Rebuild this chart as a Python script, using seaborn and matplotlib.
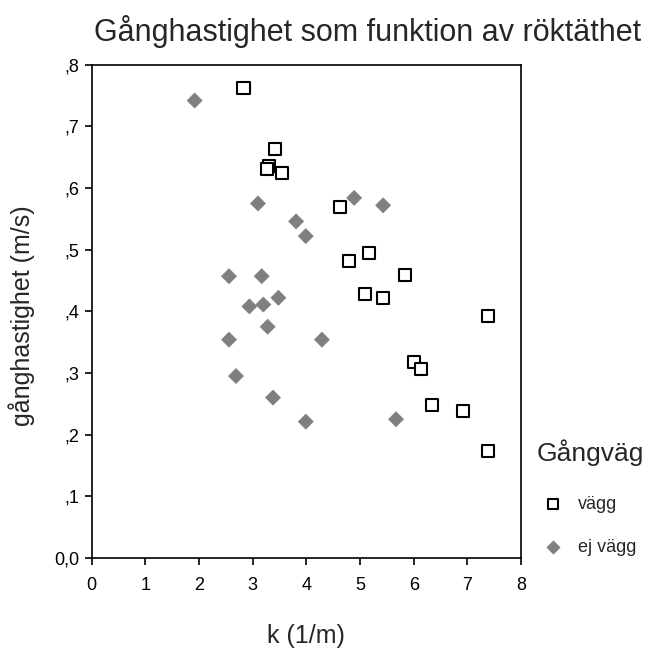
import numpy as np
import pandas as pd
import matplotlib
matplotlib.use("Agg")
import matplotlib.pyplot as plt
import seaborn as sns

# k (1/m) and speed (m/s)
vagg_k = [2.83, 3.41, 3.30, 3.27, 3.54, 4.62, 5.16, 4.79, 5.84, 5.10, 5.43,
          7.39, 6.00, 6.14, 6.34, 6.91, 7.39]
vagg_v = [0.763, 0.663, 0.636, 0.631, 0.625, 0.569, 0.495, 0.481, 0.459, 0.428, 0.422,
          0.393, 0.318, 0.306, 0.248, 0.239, 0.174]

ejvagg_k = [1.92, 3.10, 4.89, 5.43, 3.81, 3.99, 2.56, 3.17, 3.48, 2.94, 3.20,
            3.28, 2.56, 4.29, 2.69, 3.38, 3.99, 5.67]
ejvagg_v = [0.742, 0.575, 0.584, 0.572, 0.546, 0.522, 0.457, 0.457, 0.422, 0.408, 0.411,
            0.375, 0.354, 0.354, 0.295, 0.260, 0.221, 0.225]

x_ticks = [0, 1, 2, 3, 4, 5, 6, 7, 8]
y_ticks = [0.0, 0.1, 0.2, 0.3, 0.4, 0.5, 0.6, 0.7, 0.8]
y_tick_labels = ["0,0", ",1", ",2", ",3", ",4", ",5", ",6", ",7", ",8"]

df = pd.DataFrame({
    "k": vagg_k + ejvagg_k,
    "v": vagg_v + ejvagg_v,
    "Gångväg": ["vägg"] * len(vagg_k) + ["ej vägg"] * len(ejvagg_k),
})

sns.set_style("ticks")
plt.rcParams["font.family"] = ["Liberation Sans", "DejaVu Sans"]

fig = plt.figure(figsize=(6.49, 6.61), dpi=100)
ax = fig.add_axes([0.141, 0.156, 0.662, 0.746])

sns.scatterplot(data=df, x="k", y="v", hue="Gångväg", style="Gångväg",
                hue_order=["vägg", "ej vägg"], style_order=["vägg", "ej vägg"],
                palette={"vägg": "white", "ej vägg": "#7f7f7f"},
                markers={"vägg": "s", "ej vägg": "D"},
                size="Gångväg", sizes={"vägg": 75, "ej vägg": 58},
                size_order=["vägg", "ej vägg"],
                legend=False, ax=ax, zorder=3)
colls = ax.collections
# square markers: white fill, black outline; diamonds: solid grey
fc = colls[0].get_facecolors()
colls[0].set_edgecolors(["black" if c[0] > 0.9 else "#7f7f7f" for c in fc])
colls[0].set_linewidths([1.5 if c[0] > 0.9 else 0.5 for c in fc])

ax.set_xlim(0, 8)
ax.set_ylim(0, 0.8)
ax.set_xticks(x_ticks)
ax.set_yticks(y_ticks)
ax.set_yticklabels(y_tick_labels)
ax.tick_params(labelsize=13, length=5, width=1.2, colors="black")
ax.tick_params(axis="x", pad=9)
ax.tick_params(axis="y", pad=4)
for s in ax.spines.values():
    s.set_linewidth(1.2)
    s.set_color("black")
    s.set_visible(True)

ax.set_xlabel("")
ax.set_ylabel("")
fig.text(0.566, 0.952, "Gånghastighet som funktion av röktäthet", fontsize=22,
         ha="center", va="center")
fig.text(0.034, 0.522, "gånghastighet (m/s)", fontsize=18, rotation=90,
         ha="center", va="center")
fig.text(0.471, 0.038, "k (1/m)", fontsize=18, ha="center", va="center")

# legend drawn with proxy handles matching the scatter markers
fig.text(0.8274, 0.3147, "Gångväg", fontsize=19, ha="left", va="center")
h1 = ax.scatter([], [], marker="s", s=60, facecolor="white", edgecolor="black", linewidth=1.5)
h2 = ax.scatter([], [], marker="D", s=45, facecolor="#7f7f7f", edgecolor="#7f7f7f", linewidth=0.5)
leg = fig.legend([h1, h2], ["vägg", "ej vägg"],
                 loc="upper left", bbox_to_anchor=(0.824, 0.2496),
                 frameon=False, fontsize=13,
                 handletextpad=0.4, labelspacing=1.45,
                 borderaxespad=0, borderpad=0)

fig.savefig("out.png", dpi=100)
